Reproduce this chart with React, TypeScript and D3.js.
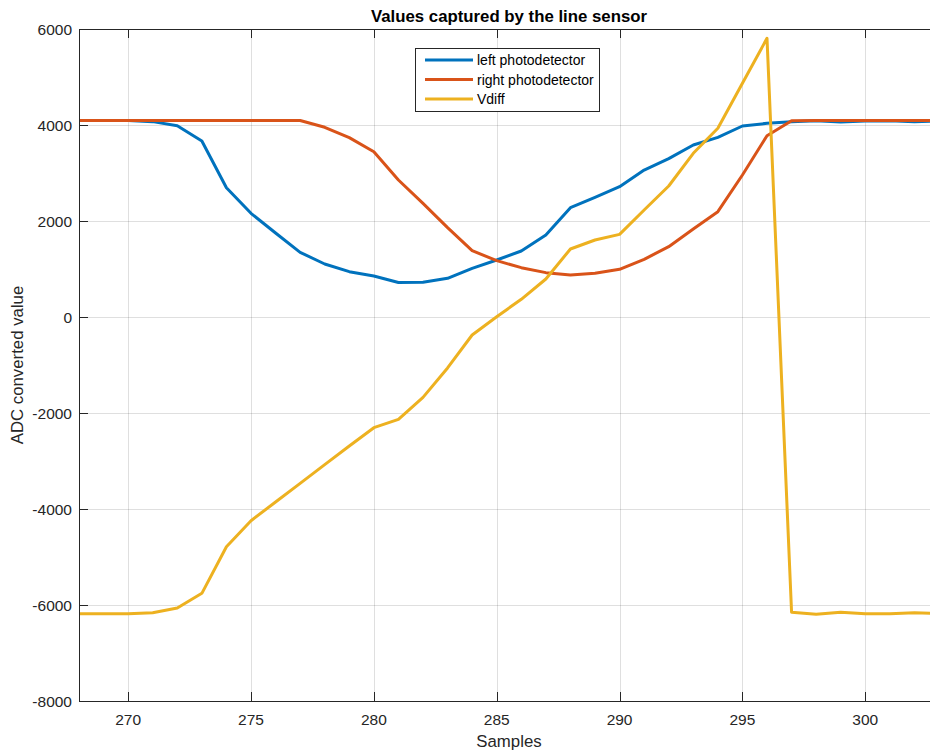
import React from 'react';
import * as d3 from 'd3';

// samples on the x axis
const samples = [268, 269, 270, 271, 272, 273, 274, 275, 276, 277, 278, 279, 280, 281, 282, 283, 284, 285,
  286, 287, 288, 289, 290, 291, 292, 293, 294, 295, 296, 297, 298, 299, 300, 301, 302, 303];

const leftPhoto = [4095, 4095, 4095, 4070, 3985, 3667, 2694, 2160, 1750, 1347, 1104, 944, 854, 720, 723, 806, 1014, 1187,
  1375, 1708, 2278, 2493, 2715, 3062, 3300, 3583, 3743, 3979, 4035, 4070, 4090, 4060, 4085, 4090, 4070, 4080];

const rightPhoto = [4095, 4095, 4095, 4095, 4095, 4095, 4095, 4095, 4095, 4095, 3952, 3736, 3444, 2854, 2368, 1861, 1382, 1174,
  1028, 924, 875, 910, 993, 1202, 1465, 1833, 2194, 2958, 3777, 4090, 4095, 4095, 4095, 4095, 4095, 4095];

const vdiff = [-6181, -6180, -6180, -6160, -6062, -5757, -4785, -4244, -3854, -3465, -3076, -2688, -2306, -2132, -1674, -1062, -375, 6,
  369, 792, 1417, 1604, 1722, 2229, 2729, 3410, 3931, 4868, 5806, -6152, -6194, -6152, -6181, -6181, -6160, -6180];

const xTicks = [270, 275, 280, 285, 290, 295, 300];
const yTicks = [-8000, -6000, -4000, -2000, 0, 2000, 4000, 6000];

const seriesNames = ['left photodetector', 'right photodetector', 'Vdiff'];
const colors = ['#0072BD', '#D95319', '#EDB120'];

export default function App() {
  const width = 930;
  const height = 751;
  const left = 79, right = 939, top = 29, bottom = 701;
  const axisColor = '#262626';
  const font = '"Liberation Sans", Arial, sans-serif';
  const tickLen = 9;

  const x = d3.scaleLinear().domain([268, 303]).range([left, right]);
  const y = d3.scaleLinear().domain([-8000, 6000]).range([bottom, top]);

  const allSeries = [leftPhoto, rightPhoto, vdiff];
  const line = d3.line<number>()
    .x((_, i) => x(samples[i]))
    .y(d => y(d));

  const legendX = 415, legendY = 48;
  const legendW = 184, legendH = 63;

  return (
    <svg width={width} height={height} style={{ position: 'fixed', left: 0, top: 0, background: '#fff' }}
      fontFamily={font}>
      <rect x={0} y={0} width={width} height={height} fill="#fff" />
      <defs>
        <clipPath id="plot">
          <rect x={left} y={top} width={right - left} height={bottom - top} />
        </clipPath>
      </defs>

      {/* grid */}
      <g stroke={axisColor} strokeOpacity={0.15} strokeWidth={1}>
        {xTicks.map(t => (
          <line key={'gx' + t} x1={Math.round(x(t)) + 0.5} x2={Math.round(x(t)) + 0.5} y1={top} y2={bottom} />
        ))}
        {yTicks.map(t => (
          <line key={'gy' + t} x1={left} x2={right} y1={Math.round(y(t)) + 0.5} y2={Math.round(y(t)) + 0.5} />
        ))}
      </g>

      {/* data lines */}
      <g clipPath="url(#plot)">
        {allSeries.map((s, i) => (
          <path key={i} d={line(s) || ''} fill="none" stroke={colors[i]} strokeWidth={3}
            strokeLinejoin="round" />
        ))}
      </g>

      {/* axes box */}
      <g stroke={axisColor} strokeWidth={1} fill="none">
        <line x1={left + 0.5} x2={left + 0.5} y1={top} y2={bottom + 0.5} />
        <line x1={left} x2={right} y1={top + 0.5} y2={top + 0.5} />
        <line x1={left} x2={right} y1={bottom + 0.5} y2={bottom + 0.5} />
        <line x1={right - 0.5} x2={right - 0.5} y1={top} y2={bottom} />
        {xTicks.map(t => (
          <g key={'tx' + t}>
            <line x1={Math.round(x(t)) + 0.5} x2={Math.round(x(t)) + 0.5} y1={bottom} y2={bottom - tickLen} />
            <line x1={Math.round(x(t)) + 0.5} x2={Math.round(x(t)) + 0.5} y1={top} y2={top + tickLen} />
          </g>
        ))}
        {yTicks.map(t => (
          <line key={'ty' + t} x1={left} x2={left + tickLen} y1={Math.round(y(t)) + 0.5} y2={Math.round(y(t)) + 0.5} />
        ))}
      </g>

      {/* tick labels */}
      <g fill={axisColor} fontSize={15.5}>
        {xTicks.map(t => (
          <text key={'lx' + t} x={x(t)} y={bottom + 24} textAnchor="middle">{t}</text>
        ))}
        {yTicks.map(t => (
          <text key={'ly' + t} x={left - 7} y={y(t) + 5.5} textAnchor="end">{t}</text>
        ))}
      </g>

      {/* axis labels and title */}
      <text x={(left + right) / 2} y={747} textAnchor="middle" fontSize={16.8} fill={axisColor}>Samples</text>
      <text transform={`translate(23, ${(top + bottom) / 2}) rotate(-90)`} textAnchor="middle" fontSize={16.8}
        fill={axisColor}>ADC converted value</text>
      <text x={(left + right) / 2} y={22} textAnchor="middle" fontSize={16.8} fontWeight="bold" fill="#000">
        Values captured by the line sensor
      </text>

      {/* legend */}
      <g>
        <rect x={legendX + 0.5} y={legendY + 0.5} width={legendW} height={legendH} fill="#fff" stroke={axisColor}
          strokeWidth={1} />
        {seriesNames.map((name, i) => {
          const ly = legendY + 12 + i * 19.5;
          return (
            <g key={name}>
              <line x1={legendX + 10} x2={legendX + 58} y1={ly} y2={ly} stroke={colors[i]} strokeWidth={3} />
              <text x={legendX + 62} y={ly + 5} fontSize={14} fill="#000">{name}</text>
            </g>
          );
        })}
      </g>
    </svg>
  );
}
